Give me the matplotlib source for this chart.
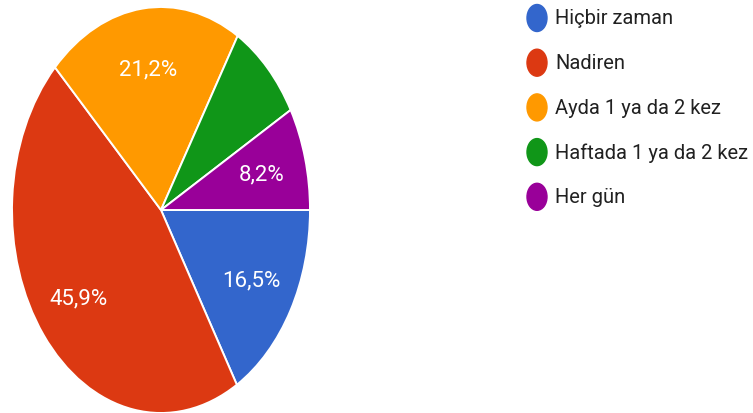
import numpy as np
import matplotlib
matplotlib.use('Agg')
import matplotlib.pyplot as plt
from matplotlib.patches import Ellipse

plt.rcParams['font.family'] = ['Roboto', 'DejaVu Sans']

# ── Survey answers ────────────────────────────────────────────────────────────
categories = ['Hiçbir zaman', 'Nadiren', 'Ayda 1 ya da 2 kez',
              'Haftada 1 ya da 2 kez', 'Her gün']
shares = [16.5, 45.9, 21.2, 8.2, 8.2]
show_label = [True, True, True, False, True]
colors = ['#3366CC', '#DC3912', '#FF9900', '#109618', '#990099']

W, H = 753, 414
fig = plt.figure(figsize=(W / 100, H / 100), dpi=100)
fig.patch.set_facecolor('white')

# pie axes, stretched vertically (ellipse)
cx, cy, rx, ry = 161, 211, 149, 203
ax = fig.add_axes([(cx - rx) / W, (H - cy - ry) / H, 2 * rx / W, 2 * ry / H])
wedges, _ = ax.pie(shares, colors=colors, startangle=0, counterclock=False,
                   radius=1.0, wedgeprops=dict(edgecolor='white', linewidth=1.4))
ax.set_aspect('auto')
ax.set_xlim(-1, 1)
ax.set_ylim(-1, 1)
ax.axis('off')

for w, v, show in zip(wedges, shares, show_label):
    if not show:
        continue
    mid = np.deg2rad((w.theta1 + w.theta2) / 2)
    ax.text(0.7 * np.cos(mid), 0.7 * np.sin(mid),
            f"{v:.1f}".replace('.', ',') + '%',
            ha='center', va='center', color='white', fontsize=16)

# ── Legend (pixel coordinates) ────────────────────────────────────────────────
lax = fig.add_axes([0, 0, 1, 1])
lax.set_xlim(0, W)
lax.set_ylim(H, 0)
lax.axis('off')
for i, (name, col) in enumerate(zip(categories, colors)):
    y = 19 + i * 44.7
    lax.add_patch(Ellipse((537, y), 20, 27, color=col))
    lax.text(555, y, name, ha='left', va='center', fontsize=14.5, color='#212121')

plt.savefig('out.png', dpi=100)
plt.close()
